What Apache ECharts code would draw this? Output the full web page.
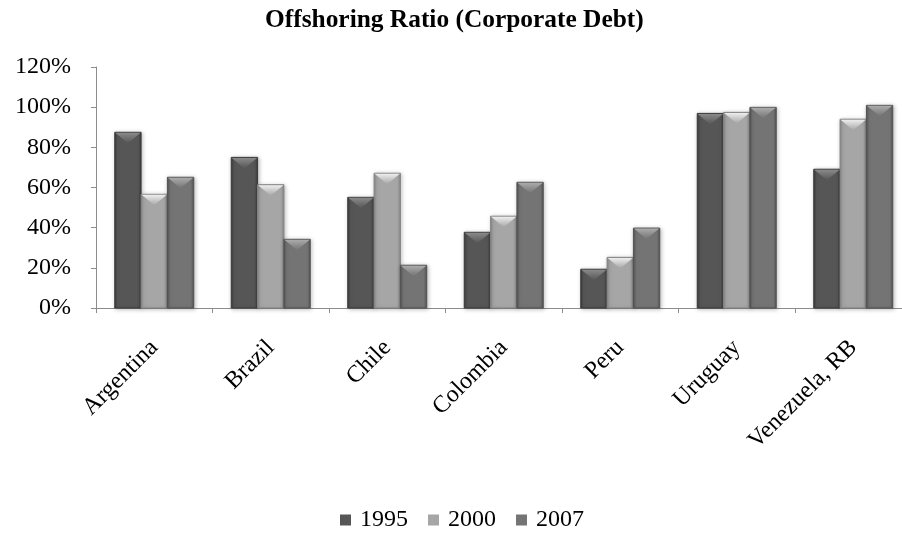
<!DOCTYPE html>
<html>
<head>
<meta charset="utf-8">
<script src="https://cdn.jsdelivr.net/npm/echarts@6/dist/echarts.min.js"></script>
<style>
  html, body { margin: 0; padding: 0; background: #fff; overflow: hidden; }
  /* the plot runs slightly past the right edge of the page */
  #chart { width: 912px; height: 537px; }
</style>
</head>
<body>
<div id="chart"></div>
<script>
const categories = ['Argentina', 'Brazil', 'Chile', 'Colombia', 'Peru', 'Uruguay', 'Venezuela, RB'];
const years = ['1995', '2000', '2007'];
const values1995 = [0.875, 0.750, 0.551, 0.377, 0.193, 0.969, 0.691];
const values2000 = [0.566, 0.614, 0.671, 0.457, 0.252, 0.974, 0.940];
const values2007 = [0.651, 0.342, 0.213, 0.626, 0.398, 0.999, 1.009];
const yTicks = [0, 0.2, 0.4, 0.6, 0.8, 1.0, 1.2];

const seriesValues = [values1995, values2000, values2007];
// body / edge / highlight tones for each year
const palette = [
  { base: '#565656', edge: '#3a3a3a', light: '#8a8a8a' },
  { base: '#a6a6a6', edge: '#858585', light: '#eeeeee' },
  { base: '#747474', edge: '#525252', light: '#ababab' }
];

const serif = '"Liberation Serif", "DejaVu Serif", serif';

function bevelBar(seriesIndex) {
  const tone = palette[seriesIndex];
  return function (params, api) {
    const cat = api.value(0);
    const val = api.value(1);
    const base = api.coord([cat, 0]);
    const top = api.coord([cat, val]);
    const bandW = api.size([1, 0])[0];
    const bw = bandW * 0.226;
    const x0 = base[0] - 1.5 * bw + seriesIndex * bw;
    const h = base[1] - top[1];
    const bevel = Math.min(11, h);
    return {
      type: 'group',
      children: [
        {
          type: 'rect',
          shape: { x: x0, y: top[1], width: bw, height: h },
          style: {
            fill: new echarts.graphic.LinearGradient(0, 0, 1, 0, [
              { offset: 0, color: tone.edge },
              { offset: 0.12, color: tone.base },
              { offset: 0.5, color: tone.base },
              { offset: 0.88, color: tone.base },
              { offset: 1, color: tone.edge }
            ]),
            stroke: tone.edge,
            lineWidth: 1,
            shadowColor: 'rgba(0,0,0,0.25)',
            shadowBlur: 4,
            shadowOffsetX: 1,
            shadowOffsetY: 1
          }
        },
        {
          type: 'polygon',
          shape: { points: [[x0 + 0.5, top[1] + 0.5], [x0 + bw - 0.5, top[1] + 0.5], [x0 + bw / 2, top[1] + bevel]] },
          style: {
            fill: new echarts.graphic.LinearGradient(0, 0, 0, 1, [
              { offset: 0, color: tone.light },
              { offset: 1, color: tone.base }
            ])
          }
        }
      ]
    };
  };
}

const chart = echarts.init(document.getElementById('chart'), null, { renderer: 'canvas' });

chart.setOption({
  backgroundColor: '#ffffff',
  animation: false,
  title: {
    text: 'Offshoring Ratio (Corporate Debt)',
    left: 260,
    top: 3,
    textStyle: { fontFamily: serif, fontSize: 25.4, fontWeight: 'bold', color: '#000' }
  },
  legend: {
    data: years.map((y, i) => ({ name: y, icon: 'rect', itemStyle: { color: palette[i].base } })),
    left: 335,
    top: 503,
    itemWidth: 11,
    itemHeight: 11,
    itemGap: 20,
    textStyle: { fontFamily: serif, fontSize: 24, color: '#000', padding: [0, 0, 0, 4] }
  },
  grid: { left: 96, top: 67, width: 815.5, height: 241, containLabel: false },
  xAxis: {
    type: 'category',
    data: categories,
    boundaryGap: true,
    axisLine: { lineStyle: { color: '#8c8c8c', width: 1 } },
    axisTick: { show: true, length: 5, lineStyle: { color: '#8c8c8c' } },
    axisLabel: {
      rotate: 45,
      margin: 36,
      interval: 0,
      fontFamily: serif,
      fontSize: 24,
      color: '#000'
    }
  },
  yAxis: {
    type: 'value',
    min: yTicks[0],
    max: yTicks[yTicks.length - 1],
    interval: 0.2,
    splitLine: { show: false },
    axisLine: { show: true, lineStyle: { color: '#8c8c8c', width: 1 } },
    axisTick: { show: true, length: 5, lineStyle: { color: '#8c8c8c' } },
    axisLabel: {
      margin: 25,
      fontFamily: serif,
      fontSize: 24,
      color: '#000',
      formatter: v => Math.round(v * 100) + '%'
    }
  },
  series: years.map((y, i) => ({
    name: y,
    type: 'custom',
    renderItem: bevelBar(i),
    itemStyle: { color: palette[i].base },
    encode: { x: 0, y: 1 },
    data: seriesValues[i].map((v, c) => [c, v])
  }))
});
</script>
</body>
</html>
